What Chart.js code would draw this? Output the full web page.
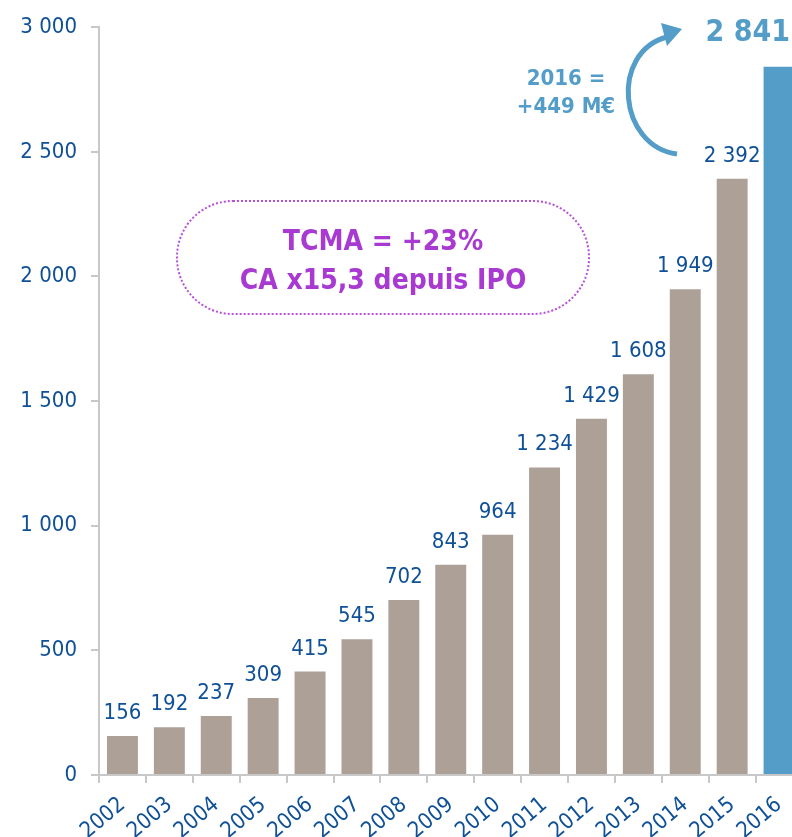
<!DOCTYPE html>
<html>
<head>
<meta charset="utf-8">
<script src="https://cdn.jsdelivr.net/npm/chart.js@4.4.1/dist/chart.umd.min.js"></script>
<style>
    html, body { margin: 0; padding: 0; background: #fff; width: 792px; height: 837px; overflow: hidden; }
    #wrap { position: absolute; left: 0; top: 0; width: 812px; height: 860px; }
</style>
</head>
<body>
<div id="wrap"><canvas id="caChart" width="812" height="860"></canvas></div>
<script>
// data (M€)
const years = ['2002', '2003', '2004', '2005', '2006', '2007', '2008', '2009', '2010', '2011', '2012', '2013', '2014', '2015', '2016'];
const revenue = [156, 192, 237, 309, 415, 545, 702, 843, 964, 1234, 1429, 1608, 1949, 2392, 2841];
const yTicks = [0, 500, 1000, 1500, 2000, 2500, 3000];

const FONT = "'DejaVu Sans Condensed', 'DejaVu Sans', sans-serif";
const BLUE_TXT = '#0f5096';
const GREY_BAR = '#ada097';
const BLUE_BAR = '#539dc8';
const PURPLE = '#a93ad1';

function fmt(v) {
    return String(v).replace(/\B(?=(\d{3})+(?!\d))/g, ' ');
}

// value labels above bars + the slide annotations
const labelsPlugin = {
    id: 'labels',
    afterDatasetsDraw(chart) {
        const ctx = chart.ctx;
        const bars = chart.getDatasetMeta(0).data;
        ctx.save();
        bars.forEach((bar, i) => {
            if (i === bars.length - 1) {
                ctx.font = 'bold 30px ' + FONT;
                ctx.fillStyle = BLUE_BAR;
                ctx.textAlign = 'right';
                ctx.textBaseline = 'alphabetic';
                ctx.fillText(fmt(revenue[i]), bar.x + 11, bar.y - 26);
            } else {
                ctx.font = '22px ' + FONT;
                ctx.fillStyle = BLUE_TXT;
                ctx.textAlign = 'center';
                ctx.textBaseline = 'alphabetic';
                ctx.fillText(fmt(revenue[i]), bar.x, bar.y - 17);
            }
        });

        // dotted pill
        ctx.beginPath();
        ctx.setLineDash([2, 2]);
        ctx.lineWidth = 2;
        ctx.strokeStyle = '#b650d9';
        ctx.roundRect(177, 201, 412, 113, 56);
        ctx.stroke();
        ctx.setLineDash([]);
        ctx.font = 'bold 28px ' + FONT;
        ctx.fillStyle = PURPLE;
        ctx.textAlign = 'center';
        ctx.fillText('TCMA = +23%', 383, 250);
        ctx.fillText('CA x15,3 depuis IPO', 383, 289);

        // curved arrow 2015 -> 2016
        ctx.beginPath();
        ctx.lineWidth = 5;
        ctx.strokeStyle = BLUE_BAR;
        ctx.moveTo(677, 154);
        ctx.bezierCurveTo(618, 146, 610, 52, 667, 37);
        ctx.stroke();
        ctx.beginPath();
        ctx.fillStyle = BLUE_BAR;
        ctx.moveTo(682, 29);
        ctx.lineTo(661, 23);
        ctx.lineTo(667, 46);
        ctx.closePath();
        ctx.fill();

        ctx.font = 'bold 22px ' + FONT;
        ctx.fillStyle = BLUE_BAR;
        ctx.fillText('2016 =', 566, 85);
        ctx.fillText('+449 M€', 566, 113);
        ctx.restore();
    }
};

const ctx = document.getElementById('caChart').getContext('2d');
new Chart(ctx, {
    type: 'bar',
    data: {
        labels: years,
        datasets: [{
            data: revenue,
            backgroundColor: years.map((y, i) => i === years.length - 1 ? BLUE_BAR : GREY_BAR),
            barPercentage: 0.66,
            categoryPercentage: 1
        }]
    },
    options: {
        responsive: false,
        animation: false,
        layout: { padding: { left: 0, top: 25, right: 9.5, bottom: 0 } },
        plugins: {
            legend: { display: false },
            tooltip: { enabled: false }
        },
        scales: {
            x: {
                grid: { drawOnChartArea: false, drawTicks: true, tickLength: 8, color: '#c8c8c8', lineWidth: 2 },
                border: { color: '#c8c8c8', width: 2 },
                ticks: {
                    color: BLUE_TXT,
                    font: { size: 22, family: FONT },
                    minRotation: 40,
                    maxRotation: 40,
                    autoSkip: false,
                    padding: 9
                },
                afterFit(scale) {
                    scale.height = 85;
                    scale.paddingLeft = 0;
                    scale.paddingRight = 0;
                }
            },
            y: {
                min: 0,
                max: 3000,
                afterBuildTicks(scale) {
                    scale.ticks = yTicks.map(v => ({ value: v }));
                },
                grid: { drawOnChartArea: false, drawTicks: true, tickLength: 8, color: '#c8c8c8', lineWidth: 2 },
                border: { color: '#c8c8c8', width: 2 },
                ticks: {
                    color: BLUE_TXT,
                    font: { size: 22, family: FONT },
                    padding: 14,
                    callback: v => fmt(v)
                },
                afterFit(scale) {
                    scale.width = 99;
                }
            }
        }
    },
    plugins: [labelsPlugin]
});
</script>
</body>
</html>
